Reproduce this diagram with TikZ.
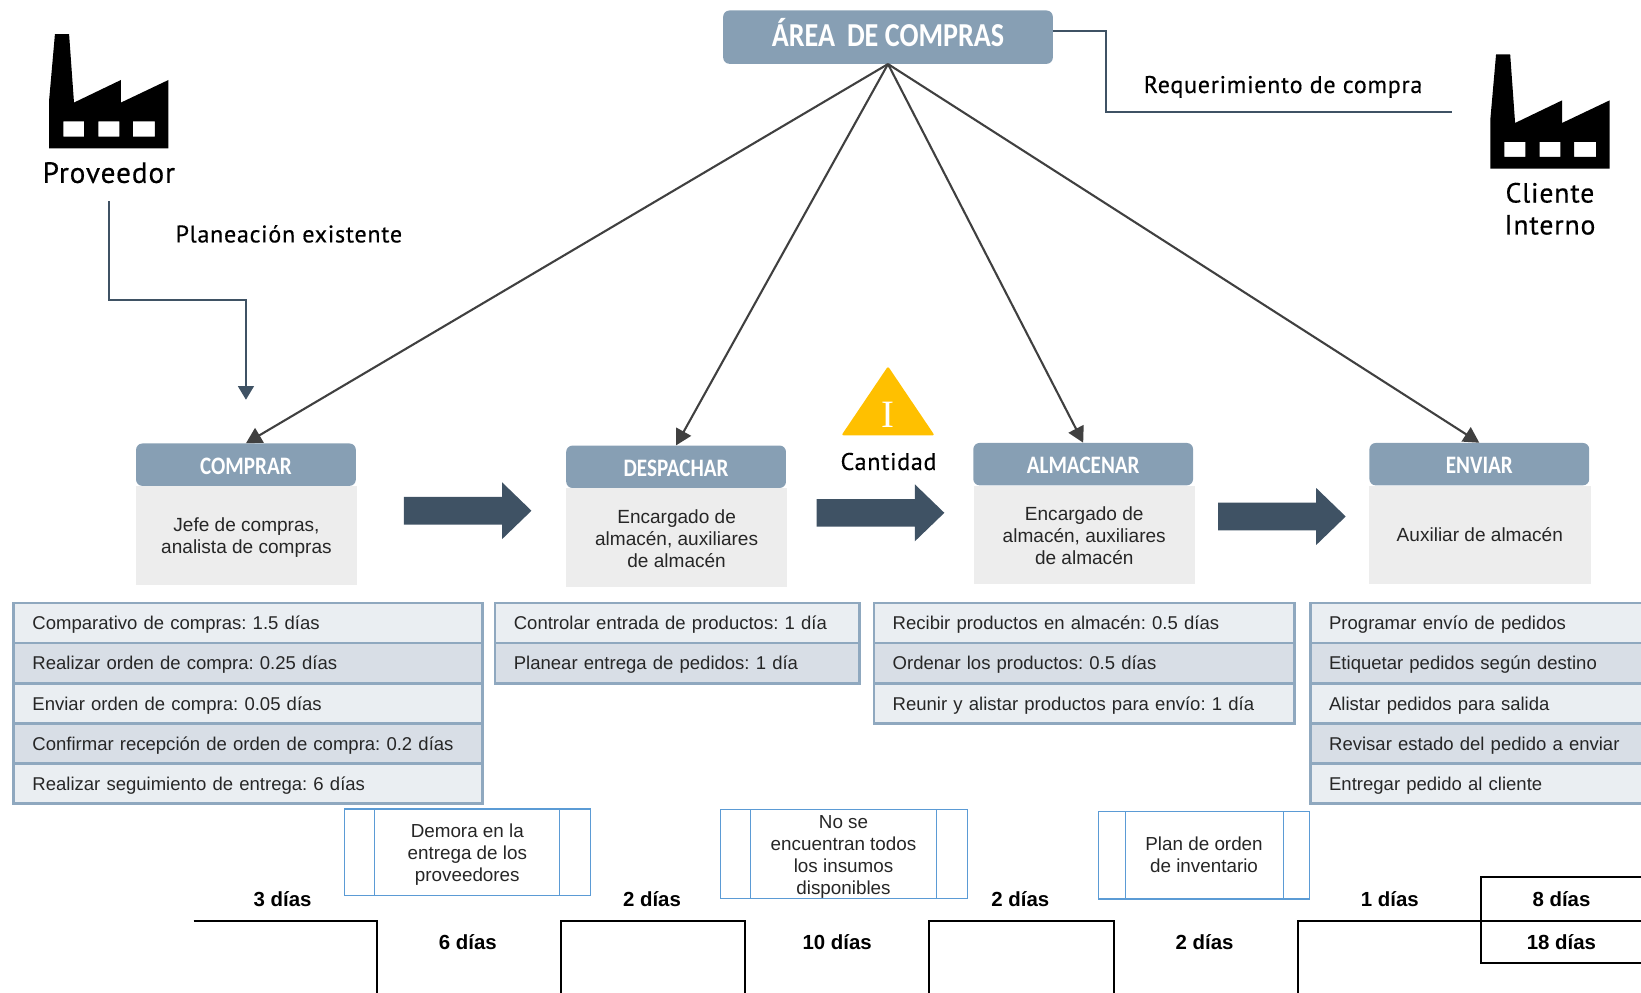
\documentclass[tikz,border=0pt]{standalone}
\usepackage{fontspec}
\setmainfont{Liberation Sans}
\newfontfamily\dinfont[LetterSpace=3,FakeBold=0.4]{PT Sans}
\newfontfamily\headfont[FakeStretch=0.84]{Carlito}
\newfontfamily\serifont{Liberation Serif}
\usepackage{tikz}
\usetikzlibrary{arrows.meta,shapes}
\definecolor{cabeza}{RGB}{135,159,180}
\definecolor{cuerpo}{RGB}{237,237,237}
\definecolor{pizarra}{RGB}{63,82,100}
\definecolor{gris}{RGB}{64,64,64}
\definecolor{borde}{RGB}{143,168,191}
\definecolor{clara}{RGB}{234,238,242}
\definecolor{oscura}{RGB}{216,222,230}
\definecolor{azul}{RGB}{91,155,213}
\definecolor{amarillo}{RGB}{255,192,0}
\definecolor{texto}{RGB}{38,38,38}
\newcommand{\bajar}[1]{\rule{0pt}{#1}}
\tikzset{
  head/.style={fill=cabeza,rounded corners=6bp,text=white,font=\headfont\bfseries\fontsize{24bp}{26bp}\selectfont,minimum width=210bp,minimum height=40.5bp,inner sep=0,text height=20bp,text depth=2bp},
  area/.style={head,font=\headfont\bfseries\fontsize{32bp}{34bp}\selectfont,minimum width=315bp,minimum height=51bp,text height=19bp,text depth=2bp},
  body/.style={fill=cuerpo,text=texto,align=center,font=\frenchspacing\fontsize{18.2bp}{21bp}\selectfont,minimum width=211.5bp,minimum height=95bp,inner sep=0},
  fila/.style={anchor=north west,draw=borde,line width=2.5bp,outer sep=0,inner xsep=18bp,inner ysep=0,minimum height=38.4bp,text height=15bp,text depth=2bp,align=left,text=texto,font=\frenchspacing\fontsize{17.7bp}{21bp}\selectfont},
  clara/.style={fila,fill=clara},
  oscura/.style={fila,fill=oscura},
  proceso/.style={draw=azul,line width=1bp,fill=white,align=center,text=texto,inner sep=0,font=\frenchspacing\fontsize{18bp}{21bp}\selectfont,
    path picture={\draw[azul,line width=1bp] ([xshift=#1]path picture bounding box.north west) -- ([xshift=#1]path picture bounding box.south west);
      \draw[azul,line width=1bp] ([xshift=-#1]path picture bounding box.north east) -- ([xshift=-#1]path picture bounding box.south east);}},
  flecha/.style={single arrow,fill=pizarra,minimum width=54bp,minimum height=122bp,single arrow head extend=14bp,single arrow tip angle=88,inner sep=13bp},
  din/.style={text=black,font=\dinfont\fontsize{23bp}{30bp}\selectfont,align=center,inner sep=0},
  dias/.style={text=black,font=\bfseries\frenchspacing\fontsize{19.5bp}{22bp}\selectfont,inner sep=0},
  linea/.style={draw=gris,line width=2bp,-{Triangle[length=15bp,width=16bp]}},
  guia/.style={draw=pizarra,line width=2bp},
  tiempo/.style={draw=black,line width=2bp},
  fabrica/.pic={
    \fill[black,even odd rule] (47bp,-141.7bp) -- (47bp,-95bp) -- (52.5bp,-32.5bp) -- (66bp,-32.5bp) -- (70.7bp,-98bp) -- (115.6bp,-76.4bp) -- (115.6bp,-98bp) -- (161bp,-76.4bp) -- (161bp,-141.7bp) -- cycle
      (60.5bp,-116bp) rectangle (80.5bp,-130.5bp)
      (94bp,-116bp) rectangle (114bp,-130.5bp)
      (127bp,-116bp) rectangle (148bp,-130.5bp);
  }
}
\begin{document}
\begin{tikzpicture}

\clip (0bp,0bp) rectangle (1568bp,-948bp);

\pic at (0bp,0bp) {fabrica};
\pic at (1377bp,-19.5bp) {fabrica};
\node (Proveedor) at (104bp,-165bp)[din,font=\dinfont\fontsize{28bp}{30bp}\selectfont] {Proveedor};
\node (Cliente) at (1481bp,-199.5bp)[din,font=\dinfont\fontsize{26.5bp}{30.5bp}\selectfont] {Cliente\\Interno};
\node (Planeacion) at (276bp,-223.5bp)[din] {Planeación existente};
\node (Requerimiento) at (1226bp,-83bp)[din] {Requerimiento de compra};

\node (Area) at (848.5bp,-35.5bp)[area] {ÁREA\, DE COMPRAS};

\node (CuerpoComprar) at (235.5bp,-511.5bp)[body] {\bajar{17.2bp}Jefe de compras,\\analista de compras};
\node (CuerpoDespachar) at (646.5bp,-513.5bp)[body] {\bajar{15.2bp}Encargado de\\almacén, auxiliares\\de almacén};
\node (CuerpoAlmacenar) at (1036bp,-511bp)[body,minimum height=94bp] {\bajar{15.2bp}Encargado de\\almacén, auxiliares\\de almacén};
\node (CuerpoEnviar) at (1414bp,-511bp)[body,minimum height=94bp] {Auxiliar de almacén};
\node (Comprar) at (235bp,-444bp)[head] {COMPRAR};
\node (Despachar) at (646bp,-446bp)[head] {DESPACHAR};
\node (Almacenar) at (1035bp,-443.5bp)[head] {ALMACENAR};
\node (Enviar) at (1413.5bp,-443.5bp)[head] {ENVIAR};

\node (Flecha1) at (440bp,-488bp)[flecha] {};
\node (Flecha2) at (834.5bp,-490bp)[flecha] {};
\node (Flecha3) at (1218bp,-493.5bp)[flecha] {};

\fill[amarillo,rounded corners=2bp] (804bp,-416bp) -- (848.5bp,-350bp) -- (893bp,-416bp) -- cycle;
\node (Inventario) at (848.5bp,-396bp)[text=white,inner sep=0,font=\serifont\fontsize{37bp}{40bp}\selectfont] {I};
\node (Cantidad) at (849bp,-441bp)[din] {Cantidad};

\coordinate (FinPlan) at (235bp,-382bp);
\coordinate (FinReq) at (1387bp,-107bp);
\draw [guia,-{Triangle[length=13bp,width=15bp]},shorten <=17bp] (Proveedor.south) -- (104bp,-287bp) -- (235bp,-287bp) -- (FinPlan);
\draw [guia] (Area.east |- 0bp,-30bp) -- (1057bp,-30bp) -- (1057bp,-107bp) -- (FinReq);
\draw [linea] (Area.south) -- (Comprar.north);
\draw [linea] (Area.south) -- (Despachar.north);
\draw [linea] (Area.south) -- (Almacenar.north);
\draw [linea] (Area.south) -- (Enviar.north);

\node (C1) at (13bp,-576bp)[clara,text width=412bp] {Comparativo de compras: 1.5 días};
\node (C2) at (13bp,-614.4bp)[oscura,text width=412bp] {Realizar orden de compra: 0.25 días};
\node (C3) at (13bp,-652.8bp)[clara,text width=412bp] {Enviar orden de compra: 0.05 días};
\node (C4) at (13bp,-691.2bp)[oscura,text width=412bp] {Confirmar recepción de orden de compra: 0.2 días};
\node (C5) at (13bp,-729.6bp)[clara,text width=412bp] {Realizar seguimiento de entrega: 6 días};
\node (D1) at (473bp,-576bp)[clara,text width=312bp] {Controlar entrada de productos: 1 día};
\node (D2) at (473bp,-614.4bp)[oscura,text width=312bp] {Planear entrega de pedidos: 1 día};
\node (A1) at (835bp,-576bp)[clara,text width=366bp] {Recibir productos en almacén: 0.5 días};
\node (A2) at (835bp,-614.4bp)[oscura,text width=366bp] {Ordenar los productos: 0.5 días};
\node (A3) at (835bp,-652.8bp)[clara,text width=366bp] {Reunir y alistar productos para envío: 1 día};
\node (E1) at (1252bp,-576bp)[clara,text width=300bp] {Programar envío de pedidos};
\node (E2) at (1252bp,-614.4bp)[oscura,text width=300bp] {Etiquetar pedidos según destino};
\node (E3) at (1252bp,-652.8bp)[clara,text width=300bp] {Alistar pedidos para salida};
\node (E4) at (1252bp,-691.2bp)[oscura,text width=300bp] {Revisar estado del pedido a enviar};
\node (E5) at (1252bp,-729.6bp)[clara,text width=300bp] {Entregar pedido al cliente};

\node (Demora) at (446.5bp,-814.5bp)[proceso=29bp,minimum width=235bp,minimum height=83bp] {\bajar{17.2bp}Demora en la\\entrega de los\\proveedores};
\node (Insumos) at (806bp,-816bp)[proceso=29bp,minimum width=236bp,minimum height=84bp] {\bajar{18bp}No se\\encuentran todos\\los insumos\\disponibles};
\node (Plan) at (1150.5bp,-817bp)[proceso=25bp,minimum width=201bp,minimum height=84bp] {Plan de orden\\de inventario};

\draw [tiempo] (185bp,-880bp) -- (360bp,-880bp) -- (360bp,-950bp);
\draw [tiempo] (536bp,-950bp) -- (536bp,-880bp) -- (712bp,-880bp) -- (712bp,-950bp);
\draw [tiempo] (888bp,-950bp) -- (888bp,-880bp) -- (1064bp,-880bp) -- (1064bp,-950bp);
\draw [tiempo] (1240bp,-950bp) -- (1240bp,-880bp) -- (1572bp,-880bp);
\draw [tiempo] (1575bp,-838bp) -- (1415bp,-838bp) -- (1415bp,-920bp) -- (1575bp,-920bp);

\node (T1) at (270bp,-859bp)[dias] {3 días};
\node (T2) at (447bp,-900bp)[dias] {6 días};
\node (T3) at (623bp,-859bp)[dias] {2 días};
\node (T4) at (800bp,-900bp)[dias] {10 días};
\node (T5) at (975bp,-859bp)[dias] {2 días};
\node (T6) at (1151bp,-900bp)[dias] {2 días};
\node (T7) at (1328bp,-859bp)[dias] {1 días};
\node (T8) at (1492bp,-859bp)[dias] {8 días};
\node (T9) at (1492bp,-900bp)[dias] {18 días};
\end{tikzpicture}
\end{document}
